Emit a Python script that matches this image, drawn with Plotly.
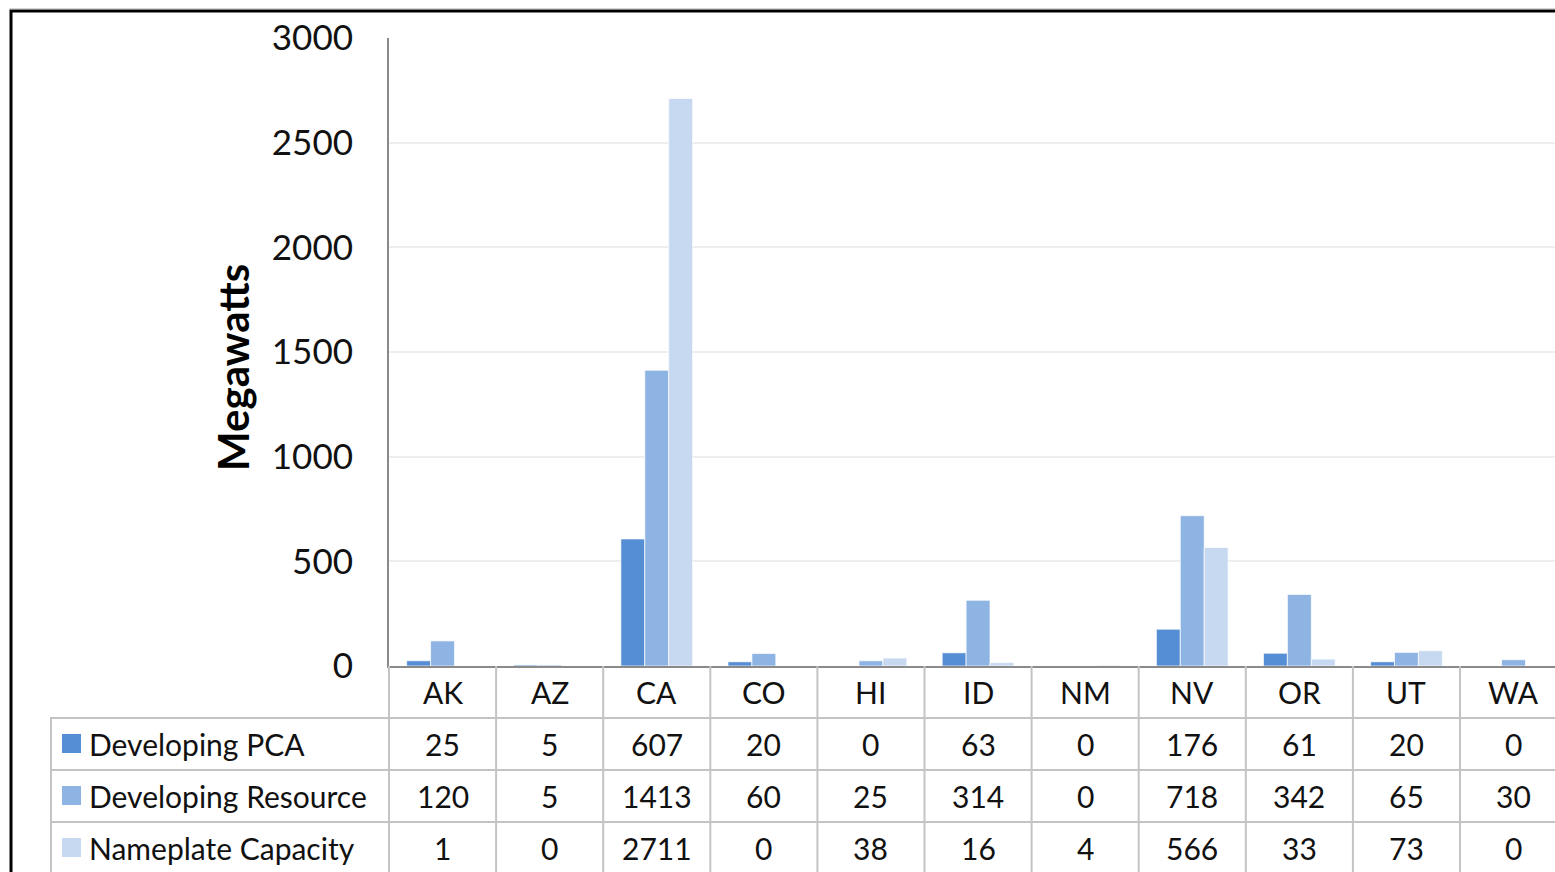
import plotly.graph_objects as go

# Geothermal capacity by state (megawatts)
states = ["AK", "AZ", "CA", "CO", "HI", "ID", "NM", "NV", "OR", "UT", "WA"]
developing_pca = [25, 5, 607, 20, 0, 63, 0, 176, 61, 20, 0]
developing_resource = [120, 5, 1413, 60, 25, 314, 0, 718, 342, 65, 30]
nameplate_capacity = [1, 0, 2711, 0, 38, 16, 4, 566, 33, 73, 0]

series_names = ["Developing PCA", "Developing Resource", "Nameplate Capacity"]
series_values = [developing_pca, developing_resource, nameplate_capacity]
series_colors = ["#558ed5", "#8eb4e3", "#c6d9f1"]

y_ticks = [0, 500, 1000, 1500, 2000, 2500, 3000]

W, H = 1555, 872
FONT = "Lato"
TABLE_FONT = dict(family=FONT, size=30, color="#111")


def px(x):
    return x / W


def py(y):
    return 1 - y / H


fig = go.Figure()
for name, vals, color in zip(series_names, series_values, series_colors):
    fig.add_trace(go.Bar(
        x=states, y=vals, name=name,
        marker=dict(color=color, line=dict(color="rgba(255,255,255,0.7)", width=1)),
        showlegend=False,
    ))

col_w = 107.1  # pixel width of one category column
plot_left, plot_right = 389, 1555
x_range = [-0.5, -0.5 + (plot_right - plot_left) / col_w]

shapes = []
annotations = []

grid = "#c3c3c3"
# horizontal rules of the data table
for y in [718, 770, 822]:
    shapes.append(dict(type="line", xref="paper", yref="paper",
                       x0=px(50), x1=1.02, y0=py(y), y1=py(y),
                       line=dict(color=grid, width=2)))
# left edge of the table
shapes.append(dict(type="line", xref="paper", yref="paper",
                   x0=px(51), x1=px(51), y0=py(718), y1=py(880),
                   line=dict(color=grid, width=2)))
# left edge of the value columns
shapes.append(dict(type="line", xref="paper", yref="paper",
                   x0=px(389), x1=px(389), y0=py(666), y1=py(880),
                   line=dict(color=grid, width=2)))
# column separators between states
for i in range(1, len(states)):
    shapes.append(dict(type="line", xref="x", yref="paper",
                       x0=i - 0.5, x1=i - 0.5, y0=py(666), y1=py(880),
                       line=dict(color=grid, width=2)))

# state labels in the header row
for s in states:
    annotations.append(dict(x=s, y=py(692), xref="x", yref="paper",
                            text=s, showarrow=False, xanchor="center", yanchor="middle",
                            font=TABLE_FONT))

row_centers = [744, 796, 848]
for name, vals, color, yc in zip(series_names, series_values, series_colors, row_centers):
    # legend key
    shapes.append(dict(type="rect", xref="paper", yref="paper",
                       x0=px(62), x1=px(81), y0=py(yc - 10), y1=py(yc + 9),
                       fillcolor=color, line=dict(width=0)))
    annotations.append(dict(x=px(87), y=py(yc), xref="paper", yref="paper",
                            text=name, showarrow=False, xanchor="left", yanchor="middle",
                            font=TABLE_FONT))
    for s, v in zip(states, vals):
        annotations.append(dict(x=s, y=py(yc), xref="x", yref="paper",
                                text=str(v), showarrow=False, xanchor="center", yanchor="middle",
                                font=TABLE_FONT))

# y-axis title
annotations.append(dict(x=px(233), y=py(368), xref="paper", yref="paper",
                        text="<b>Megawatts</b>", textangle=-90, showarrow=False,
                        xanchor="center", yanchor="middle",
                        font=dict(family=FONT, size=42, color="#000")))

# chart frame
shapes.append(dict(type="rect", xref="paper", yref="paper",
                   x0=px(11), x1=1.05, y0=py(11), y1=-0.05,
                   line=dict(color="#000", width=3), fillcolor="rgba(0,0,0,0)"))
shapes.append(dict(type="line", xref="paper", yref="paper",
                   x0=px(9), x1=1.05, y0=py(8.5), y1=py(8.5),
                   line=dict(color="#d6d6d6", width=1)))

fig.update_layout(
    template="none",
    width=W, height=H,
    margin=dict(l=0, r=0, t=0, b=0, pad=0),
    paper_bgcolor="white", plot_bgcolor="white",
    barmode="group", bargap=0.33, bargroupgap=0,
    shapes=shapes, annotations=annotations,
    showlegend=False,
    xaxis=dict(domain=[px(plot_left), 1], range=x_range, automargin=False,
               showticklabels=False, ticks="", showgrid=False,
               showline=True, linecolor="#8a8a8a", linewidth=2,
               zeroline=False, fixedrange=True),
    yaxis=dict(domain=[py(666), py(38)], range=[0, 3000], automargin=False,
               tickvals=y_ticks, ticktext=[str(t) for t in y_ticks],
               tickfont=dict(family=FONT, size=35, color="#111"),
               ticklabelstandoff=27, ticks="",
               showgrid=True, gridcolor="#eeeeee", gridwidth=2,
               showline=True, linecolor="#8a8a8a", linewidth=2,
               zeroline=False, fixedrange=True),
)

fig.write_html("out.html")
